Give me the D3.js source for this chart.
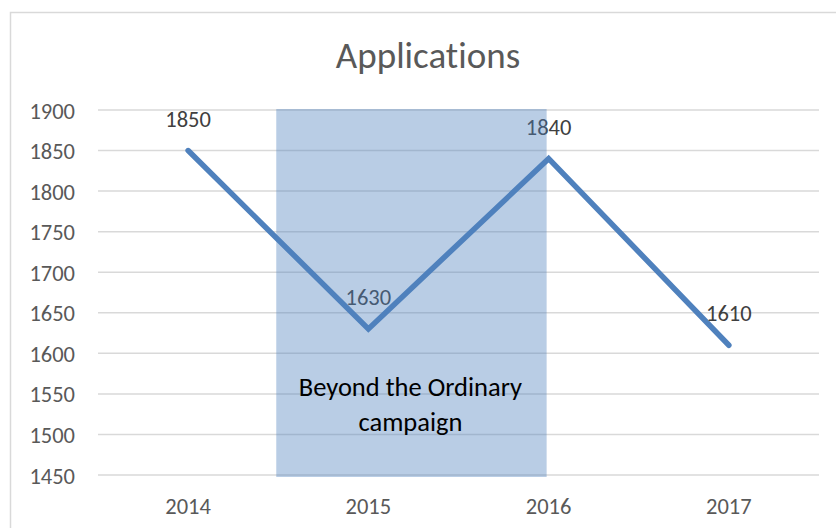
<!DOCTYPE html>
<html>
<head>
<meta charset="utf-8">
<script src="https://cdn.jsdelivr.net/npm/d3@7/dist/d3.min.js"></script>
<style>
  html, body { margin: 0; padding: 0; background: #fff; }
  svg { display: block; }
  text { font-family: Carlito, Calibri, Lato, "Liberation Sans", sans-serif; font-variant-ligatures: none; }
</style>
</head>
<body>
<svg id="chart" width="836" height="528"></svg>
<script>
const title = "Applications";
const years = ["2014", "2015", "2016", "2017"];
const applications = [1850, 1630, 1840, 1610];
const yTicks = [1450, 1500, 1550, 1600, 1650, 1700, 1750, 1800, 1850, 1900];
const campaignLines = ["Beyond the Ordinary", "campaign"];
const campaignFrom = "2015";
const campaignTo = "2016";

const svg = d3.select("#chart");
const plot = { left: 98, right: 819, top: 110, bottom: 475 };

// chart border (extends past the right and bottom edges)
svg.append("rect")
  .attr("x", 10.5).attr("y", 12.5)
  .attr("width", 900).attr("height", 600)
  .attr("fill", "#fff").attr("stroke", "#d9d9d9").attr("stroke-width", 1.5);

const x = d3.scaleBand().domain(years).range([plot.left, plot.right]);
const y = d3.scaleLinear().domain([1450, 1900]).range([plot.bottom, plot.top]);
const cx = d => x(d) + x.bandwidth() / 2;

// gridlines
svg.append("g").selectAll("line").data(yTicks).join("line")
  .attr("x1", plot.left).attr("x2", plot.right)
  .attr("y1", d => y(d)).attr("y2", d => y(d))
  .attr("stroke", "#d9d9d9").attr("stroke-width", 1.5);

// y axis
const yAxis = svg.append("g")
  .attr("transform", `translate(${plot.left - 23},0)`)
  .call(d3.axisLeft(y).tickValues(yTicks).tickSize(0).tickPadding(0).tickFormat(d3.format("d")));
yAxis.select(".domain").remove();
yAxis.selectAll("text").attr("fill", "#595959").style("font-size", "22.5px").attr("dy", "0.36em");

// x axis
const xAxis = svg.append("g")
  .attr("transform", `translate(0,${plot.bottom})`)
  .call(d3.axisBottom(x).tickSize(0).tickPadding(0));
xAxis.select(".domain").remove();
xAxis.selectAll("text").attr("fill", "#595959").style("font-size", "22.5px").attr("dy", null).attr("y", 39);

// line
const pts = years.map((yr, i) => ({ yr, v: applications[i] }));
svg.append("path").datum(pts)
  .attr("fill", "none").attr("stroke", "#4f81bd").attr("stroke-width", 5.5)
  .attr("stroke-linecap", "round").attr("stroke-linejoin", "miter")
  .attr("d", d3.line().x(d => cx(d.yr)).y(d => y(d.v)));

// data labels
svg.append("g").selectAll("text").data(pts).join("text")
  .attr("x", d => cx(d.yr)).attr("y", d => y(d.v) - 24)
  .attr("text-anchor", "middle").attr("fill", "#404040")
  .style("font-size", "22.5px")
  .text(d => d.v);

// campaign shading
const rx0 = x(campaignFrom), rx1 = cx(campaignTo);
svg.append("rect")
  .attr("x", rx0 - 2).attr("y", y(1900) - 1)
  .attr("width", rx1 - rx0).attr("height", y(1450) - y(1900) + 3)
  .attr("fill", "#4f81bd").attr("fill-opacity", 0.4);

svg.append("g").selectAll("text").data(campaignLines).join("text")
  .attr("x", (rx0 + rx1) / 2 - 3).attr("y", (d, i) => 396 + i * 35)
  .attr("text-anchor", "middle").attr("fill", "#000")
  .style("font-size", "26.5px")
  .text(d => d);

// title
svg.append("text")
  .attr("x", 428).attr("y", 68)
  .attr("text-anchor", "middle").attr("fill", "#595959")
  .style("font-size", "37px")
  .text(title);
</script>
</body>
</html>
